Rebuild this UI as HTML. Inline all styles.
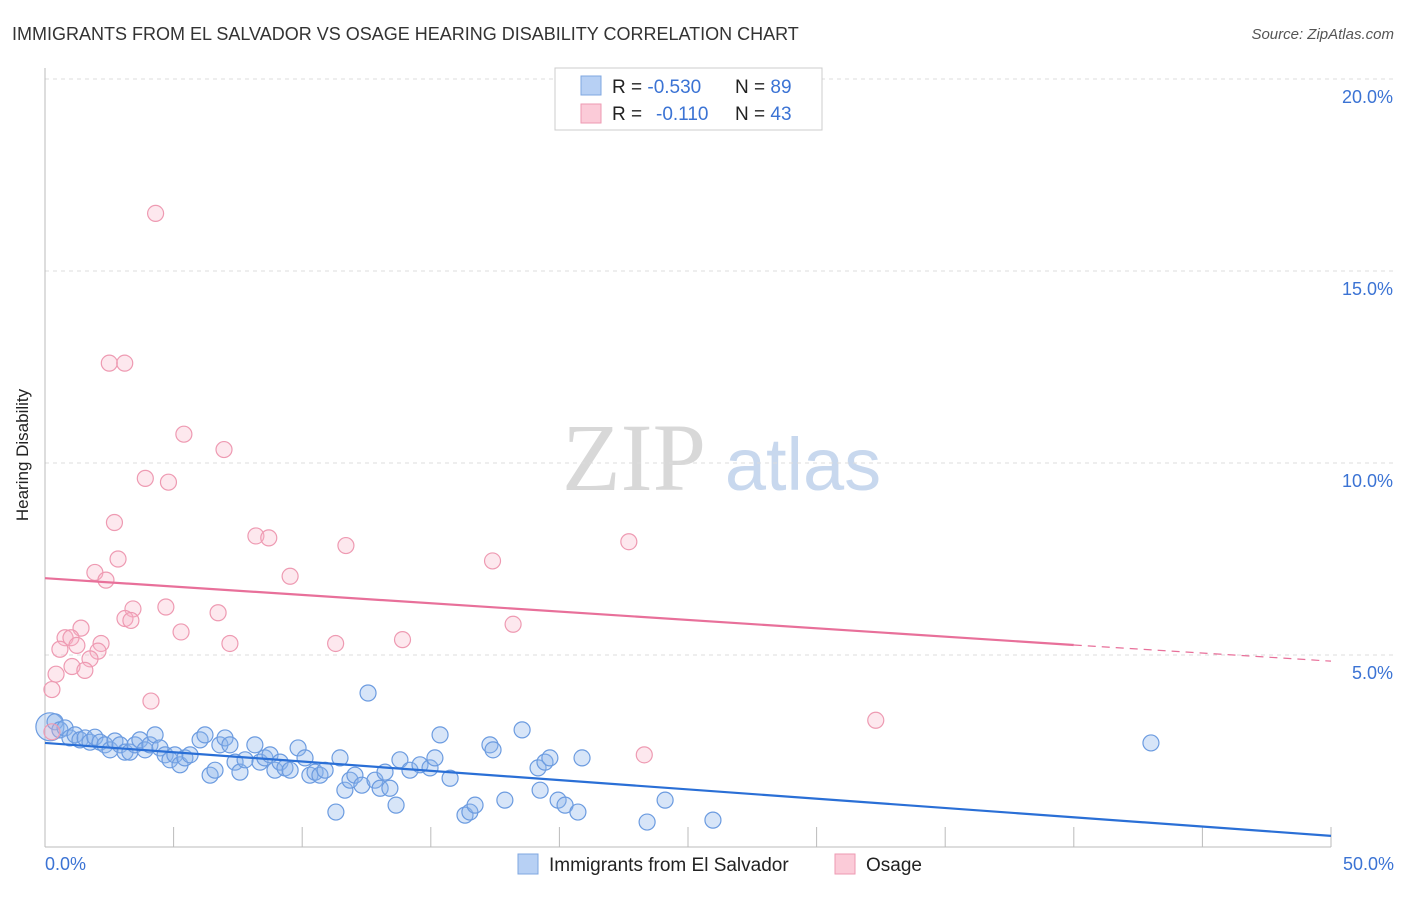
<!DOCTYPE html>
<html><head><meta charset="utf-8"><style>
body{margin:0;background:#fff;font-family:"Liberation Sans",sans-serif}
svg text{font-family:"Liberation Sans",sans-serif}
</style></head><body>
<svg width="1406" height="892">
<text x="12" y="40" font-size="18" fill="#333">IMMIGRANTS FROM EL SALVADOR VS OSAGE HEARING DISABILITY CORRELATION CHART</text>
<text x="1394" y="39" font-size="15" fill="#555" font-style="italic" text-anchor="end">Source: ZipAtlas.com</text>
<text x="634" y="490" font-size="96" fill="#d8d8d8" text-anchor="middle" style="font-family:'Liberation Serif',serif">ZIP</text>
<text x="803" y="490" font-size="74" fill="#c8d8ee" text-anchor="middle">atlas</text>
<g id="grid"></g>
<line x1="45" y1="68" x2="45" y2="847" stroke="#bbb"/>
<line x1="45" y1="847" x2="1331" y2="847" stroke="#bbb"/>
<text x="28" y="455" font-size="17" fill="#222" transform="rotate(-90 28 455)" text-anchor="middle">Hearing Disability</text>
<text x="45" y="870" font-size="18" fill="#3b73d4">0.0%</text>
<text x="1394" y="870" font-size="18" fill="#3b73d4" text-anchor="end">50.0%</text>
<g id="pts"></g>
<g id="trends"></g>
<rect x="555" y="68" width="267" height="62" fill="#fff" stroke="#ccc"/>
<rect x="581" y="76" width="20" height="19" fill="#b7d0f4" stroke="#7fa7e0"/>
<rect x="581" y="104" width="20" height="19" fill="#fbcbd8" stroke="#ee9ab2"/>
<text x="612" y="93" font-size="19" fill="#222">R = <tspan fill="#3b73d4">-0.530</tspan><tspan x="735">N = </tspan><tspan fill="#3b73d4">89</tspan></text>
<text x="612" y="120" font-size="19" fill="#222">R = <tspan fill="#3b73d4" x="656">-0.110</tspan><tspan x="735">N = </tspan><tspan fill="#3b73d4">43</tspan></text>
<rect x="518" y="854" width="20" height="20" fill="#b7d0f4" stroke="#7fa7e0"/>
<text x="549" y="871" font-size="19" fill="#222">Immigrants from El Salvador</text>
<rect x="835" y="854" width="20" height="20" fill="#fbcbd8" stroke="#ee9ab2"/>
<text x="866" y="871" font-size="19" fill="#222">Osage</text>
</svg>
<script>
const yTicks=[5,10,15,20];
const yTickLabels=["5.0%","10.0%","15.0%","20.0%"];
const xTicks=[0,5,10,15,20,25,30,35,40,45,50];
const pinkX=[4.3,2.5,3.1,5.4,6.96,3.9,4.8,2.7,8.2,8.7,11.7,22.7,2.84,17.4,1.94,2.37,9.53,3.42,4.7,3.11,3.34,6.73,1.4,18.2,5.29,0.78,1.01,7.19,11.3,13.9,2.18,1.24,0.58,2.06,1.75,1.05,1.55,0.43,0.27,4.12,32.3,23.3,0.27];
const pinkY=[16.5,12.6,12.6,10.75,10.35,9.6,9.5,8.45,8.1,8.05,7.85,7.95,7.5,7.45,7.15,6.95,7.05,6.2,6.25,5.95,5.9,6.1,5.7,5.8,5.6,5.45,5.45,5.3,5.3,5.4,5.3,5.25,5.15,5.1,4.9,4.7,4.6,4.5,4.1,3.8,3.3,2.4,3.0];
const blueX=[0.19,0.39,0.58,0.78,0.97,1.17,1.36,1.56,1.75,1.94,2.14,2.33,2.53,2.72,2.92,3.11,3.3,3.5,3.69,3.89,4.08,4.28,4.47,4.67,4.86,5.05,5.25,5.44,5.64,6.03,6.22,6.42,6.61,6.8,7.0,7.19,7.39,7.58,7.78,8.16,8.36,8.55,8.75,8.94,9.14,9.33,9.53,9.84,10.11,10.3,10.5,10.69,10.89,11.47,11.31,11.66,11.86,12.05,12.32,12.56,12.83,13.03,13.22,13.41,13.65,13.8,14.19,14.58,14.97,15.16,15.36,15.75,16.33,16.52,16.72,17.3,17.42,17.88,18.55,19.17,19.44,19.25,19.63,19.95,20.22,20.72,20.88,23.41,24.11,25.97,43.0];
const blueY=[3.13,3.26,3.05,3.1,2.84,2.92,2.79,2.84,2.73,2.86,2.73,2.66,2.53,2.76,2.66,2.47,2.47,2.66,2.79,2.53,2.66,2.92,2.58,2.4,2.27,2.4,2.14,2.32,2.4,2.79,2.92,1.87,2.0,2.66,2.84,2.66,2.21,1.95,2.27,2.66,2.21,2.32,2.4,2.0,2.21,2.06,2.0,2.58,2.32,1.87,1.95,1.87,2.0,2.32,0.91,1.48,1.74,1.87,1.61,4.01,1.74,1.53,1.95,1.53,1.09,2.27,2.0,2.14,2.06,2.32,2.92,1.79,0.83,0.91,1.09,2.66,2.53,1.22,3.05,2.06,2.21,1.48,2.32,1.22,1.09,0.91,2.32,0.65,1.22,0.7,2.71];
const blueTrend=[[0,2.71],[50,0.29]];
const pinkTrend=[[0,7.0],[40,5.26],[50,4.84]];
const X=v=>45+v*25.72, Y=v=>847-v*38.4;
const NS="http://www.w3.org/2000/svg";
const g=document.getElementById('grid');
yTicks.forEach((t,i)=>{
 const l=document.createElementNS(NS,'line');
 l.setAttribute('x1',45);l.setAttribute('x2',1394);l.setAttribute('y1',Y(t));l.setAttribute('y2',Y(t));
 l.setAttribute('stroke','#ddd');l.setAttribute('stroke-dasharray','4,4');
 
 
 g.appendChild(l);
 const tx=document.createElementNS(NS,'text');
 tx.setAttribute('x',1393);tx.setAttribute('y',Y(t)+24);tx.setAttribute('text-anchor','end');
 tx.setAttribute('font-size','18');tx.setAttribute('fill','#3b73d4');tx.textContent=yTickLabels[i];
 
 
 g.appendChild(tx);
});
xTicks.forEach(t=>{
 const l=document.createElementNS(NS,'line');
 l.setAttribute('x1',X(t));l.setAttribute('x2',X(t));l.setAttribute('y1',827);l.setAttribute('y2',847);
 l.setAttribute('stroke','#bbb');
 
 
 g.appendChild(l);
});
const p=document.getElementById('pts');
function dot(x,y,fill,stroke,name,r){
 const c=document.createElementNS(NS,'circle');
 c.setAttribute('cx',X(x));c.setAttribute('cy',Y(y));c.setAttribute('r',r||8);
 c.setAttribute('fill',fill);c.setAttribute('stroke',stroke);c.setAttribute('stroke-width','1.2');
 
 
 p.appendChild(c);
}
blueX.forEach((x,i)=>dot(x,blueY[i],'rgba(140,180,235,0.35)','#6b9be0','blue-point',i==0?14:8));
pinkX.forEach((x,i)=>dot(x,pinkY[i],'rgba(248,180,200,0.3)','#ee9ab2','pink-point'));
const tr=document.getElementById('trends');
function line(a,b,col,name,dash){
 const l=document.createElementNS(NS,'line');
 l.setAttribute('x1',X(a[0]));l.setAttribute('y1',Y(a[1]));l.setAttribute('x2',X(b[0]));l.setAttribute('y2',Y(b[1]));
 l.setAttribute('stroke',col);l.setAttribute('stroke-width',dash?1.2:2.2);
 if(dash)l.setAttribute('stroke-dasharray','8,6');
 
 
 tr.appendChild(l);
}
line(blueTrend[0],blueTrend[1],'#2a6fd6','blue-trend-line');
line(pinkTrend[0],pinkTrend[1],'#e8709a','pink-trend-line');
line(pinkTrend[1],pinkTrend[2],'#e8709a','pink-trend-extension',true);
</script>
</body></html>
